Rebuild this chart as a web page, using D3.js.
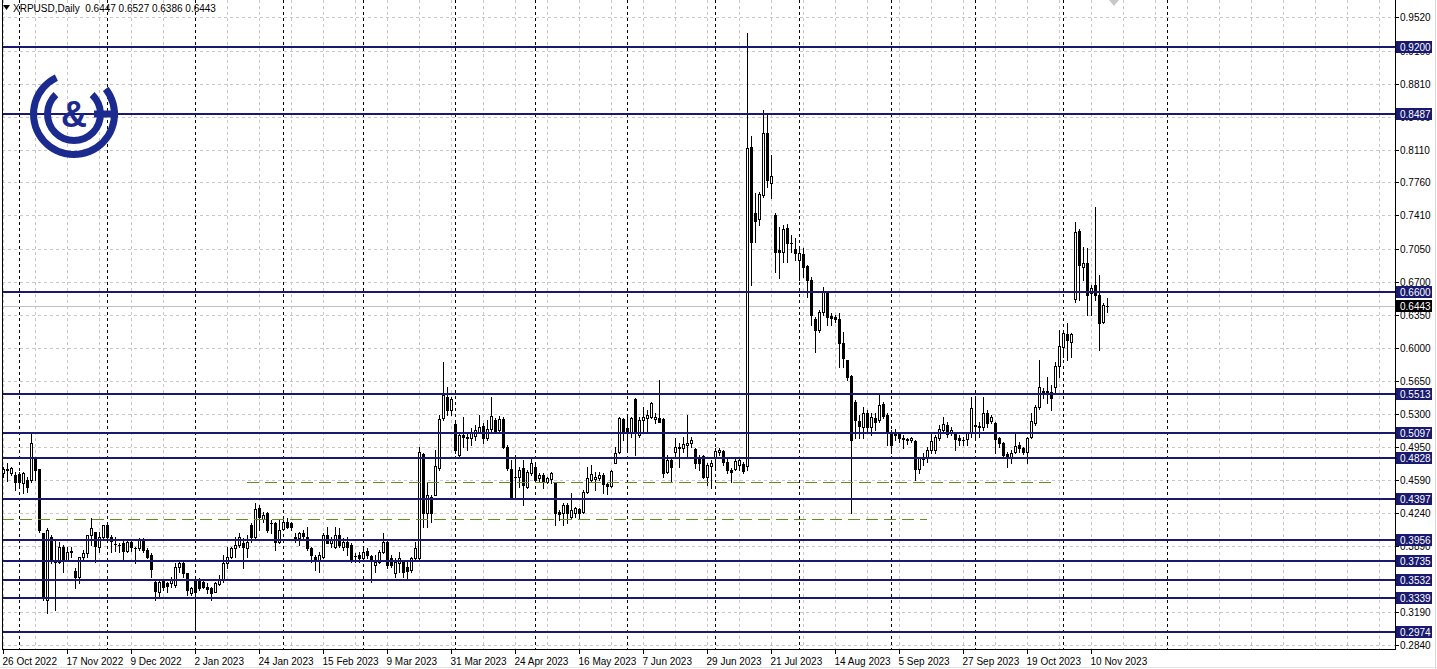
<!DOCTYPE html>
<html><head><meta charset="utf-8">
<script src="https://cdn.jsdelivr.net/npm/d3@7"></script>
<style>html,body{margin:0;padding:0;background:#fff;overflow:hidden}svg{display:block}</style>
</head><body>
<svg id="chart" width="1437" height="669"></svg>
<script>
// ---------------- data ----------------
const symbolTitle = "XRPUSD,Daily";
const headerOHLC = ["0.6447", "0.6527", "0.6386", "0.6443"];
const dateLabels = ["26 Oct 2022","17 Nov 2022","9 Dec 2022","2 Jan 2023","24 Jan 2023","15 Feb 2023","9 Mar 2023","31 Mar 2023","24 Apr 2023","16 May 2023","7 Jun 2023","29 Jun 2023","21 Jul 2023","14 Aug 2023","5 Sep 2023","27 Sep 2023","19 Oct 2023","10 Nov 2023"];
const dateLabelStep = 16;
const priceTicks = [0.9520,0.9160,0.8810,0.8460,0.8110,0.7760,0.7410,0.7050,0.6700,0.6350,0.6000,0.5650,0.5300,0.4950,0.4590,0.4240,0.3890,0.3540,0.3190,0.2840];
const levels = [0.9200,0.8487,0.6600,0.5513,0.5097,0.4828,0.4397,0.3956,0.3735,0.3532,0.3339,0.2974];
const greenLevels = [0.4573, 0.4180];
const greenFrom = [61, -1];
const greenTo = [263, 231];
// month-start bar slots (the last one is in the projected future area)
const monthStartBars = [4,26,48,70,90,113,133,156,178,199,222,243,265,291];
const lastPrice = 0.6443;
// [open, high, low, close]
const ohlc = [
[0.4666,0.4737,0.4630,0.4708],[0.4708,0.4772,0.4588,0.4701],[0.4666,0.4737,0.4648,0.4719],[0.4648,0.4683,0.4488,0.4577],
[0.4659,0.4683,0.4524,0.4577],[0.4559,0.4683,0.4453,0.4666],[0.4595,0.4630,0.4471,0.4524],[0.4595,0.5091,0.4577,0.4985],
[0.4836,0.4843,0.4595,0.4701],[0.4712,0.4712,0.4045,0.4063],[0.4027,0.4027,0.3318,0.3336],[0.3318,0.4080,0.3176,0.4063],
[0.3992,0.4010,0.3708,0.3744],[0.3744,0.3956,0.3212,0.3726],[0.3726,0.3939,0.3708,0.3886],[0.3879,0.3903,0.3620,0.3744],
[0.3744,0.3886,0.3744,0.3832],[0.3832,0.3886,0.3779,0.3836],[0.3630,0.3655,0.3442,0.3559],[0.3566,0.3779,0.3495,0.3779],
[0.3772,0.3850,0.3751,0.3822],[0.3815,0.4010,0.3779,0.4010],[0.4010,0.4187,0.3903,0.4080],[0.4045,0.4045,0.3726,0.3893],
[0.3886,0.4045,0.3832,0.3992],[0.3992,0.4116,0.3956,0.4116],[0.4116,0.4116,0.3949,0.3985],[0.3992,0.4010,0.3832,0.3949],
[0.3914,0.3992,0.3843,0.3914],[0.3906,0.3921,0.3832,0.3900],[0.3928,0.3956,0.3744,0.3843],[0.3843,0.3956,0.3832,0.3939],
[0.3939,0.3956,0.3843,0.3878],[0.3868,0.3886,0.3715,0.3868],[0.3868,0.3974,0.3850,0.3964],[0.3967,0.3974,0.3832,0.3850],
[0.3850,0.3868,0.3761,0.3779],[0.3797,0.3815,0.3566,0.3644],[0.3506,0.3531,0.3318,0.3417],[0.3407,0.3531,0.3354,0.3513],
[0.3524,0.3531,0.3425,0.3460],[0.3503,0.3513,0.3407,0.3467],[0.3495,0.3566,0.3460,0.3538],[0.3478,0.3708,0.3460,0.3673],
[0.3673,0.3726,0.3620,0.3708],[0.3708,0.3726,0.3566,0.3602],[0.3602,0.3602,0.3371,0.3424],[0.3389,0.3460,0.3371,0.3449],
[0.3538,0.3545,0.2974,0.3400],[0.3538,0.3549,0.3424,0.3442],[0.3513,0.3531,0.3442,0.3460],[0.3460,0.3495,0.3389,0.3432],
[0.3442,0.3460,0.3318,0.3389],[0.3407,0.3513,0.3407,0.3495],[0.3488,0.3584,0.3478,0.3531],[0.3531,0.3797,0.3513,0.3708],
[0.3708,0.3886,0.3655,0.3779],[0.3779,0.3886,0.3761,0.3868],[0.3868,0.3992,0.3779,0.3903],[0.3903,0.4027,0.3886,0.3992],
[0.3921,0.3974,0.3655,0.3885],[0.3868,0.4009,0.3779,0.3938],[0.4116,0.4133,0.3938,0.3992],[0.3992,0.4346,0.3974,0.4282],
[0.4293,0.4328,0.4063,0.4204],[0.4176,0.4257,0.4151,0.4222],[0.4240,0.4257,0.4045,0.4063],[0.4137,0.4169,0.4027,0.4133],
[0.4133,0.4151,0.3850,0.3938],[0.3938,0.4169,0.3921,0.4063],[0.4070,0.4187,0.4063,0.4151],[0.4151,0.4187,0.4080,0.4098],
[0.4133,0.4151,0.4063,0.4098],[0.3992,0.4027,0.3938,0.3974],[0.3974,0.4045,0.3903,0.4027],[0.4034,0.4063,0.3956,0.3998],
[0.3992,0.4098,0.3850,0.3868],[0.3868,0.3885,0.3726,0.3797],[0.3779,0.3796,0.3637,0.3736],[0.3743,0.3832,0.3619,0.3796],
[0.3779,0.4027,0.3761,0.4009],[0.4009,0.4098,0.3921,0.3928],[0.3921,0.3992,0.3885,0.3963],[0.3885,0.4098,0.3868,0.4009],
[0.4009,0.4080,0.3885,0.3903],[0.3885,0.3974,0.3850,0.3938],[0.3938,0.3992,0.3796,0.3885],[0.3903,0.3921,0.3726,0.3743],
[0.3789,0.3814,0.3726,0.3785],[0.3796,0.3832,0.3726,0.3761],[0.3761,0.3885,0.3743,0.3832],[0.3843,0.3868,0.3761,0.3796],
[0.3786,0.3796,0.3513,0.3743],[0.3690,0.3796,0.3619,0.3726],[0.3726,0.3850,0.3708,0.3832],[0.3832,0.4027,0.3814,0.3938],
[0.3938,0.3956,0.3655,0.3690],[0.3761,0.3796,0.3672,0.3690],[0.3601,0.3761,0.3566,0.3726],[0.3708,0.3832,0.3619,0.3761],
[0.3726,0.3743,0.3566,0.3619],[0.3672,0.3726,0.3548,0.3630],[0.3637,0.3779,0.3619,0.3761],[0.3761,0.3938,0.3743,0.3868],
[0.3761,0.4950,0.3743,0.4896],[0.4871,0.4878,0.4098,0.4240],[0.4240,0.4577,0.4098,0.4435],[0.4417,0.4435,0.4151,0.4240],
[0.4435,0.4914,0.4435,0.4744],[0.4719,0.5286,0.4701,0.5240],[0.5251,0.5853,0.5233,0.5499],[0.5481,0.5587,0.5286,0.5339],
[0.5339,0.5481,0.5286,0.5453],[0.5190,0.5215,0.4878,0.4914],[0.4860,0.5091,0.4825,0.5073],[0.5073,0.5268,0.4949,0.5048],
[0.5050,0.5109,0.4914,0.5046],[0.5038,0.5144,0.4967,0.5109],[0.5063,0.5180,0.5020,0.5126],[0.5109,0.5286,0.5091,0.5162],
[0.5169,0.5197,0.4984,0.5038],[0.5038,0.5233,0.5020,0.5134],[0.5134,0.5481,0.5109,0.5275],[0.5233,0.5251,0.5091,0.5109],
[0.5126,0.5275,0.5109,0.5240],[0.5240,0.5268,0.4931,0.4949],[0.4949,0.4967,0.4701,0.4719],[0.4708,0.4807,0.4417,0.4417],
[0.4627,0.4860,0.4417,0.4623],[0.4623,0.4736,0.4524,0.4701],[0.4719,0.4807,0.4328,0.4541],[0.4524,0.4701,0.4506,0.4683],
[0.4673,0.4825,0.4648,0.4772],[0.4736,0.4754,0.4577,0.4594],[0.4612,0.4665,0.4577,0.4648],[0.4648,0.4665,0.4506,0.4577],
[0.4577,0.4630,0.4559,0.4612],[0.4602,0.4683,0.4559,0.4665],[0.4577,0.4577,0.4116,0.4240],[0.4258,0.4275,0.4169,0.4233],
[0.4247,0.4346,0.4116,0.4328],[0.4328,0.4346,0.4133,0.4240],[0.4205,0.4453,0.4187,0.4275],[0.4240,0.4311,0.4205,0.4293],
[0.4282,0.4293,0.4187,0.4247],[0.4258,0.4488,0.4240,0.4470],[0.4470,0.4736,0.4453,0.4612],[0.4594,0.4754,0.4577,0.4658],
[0.4602,0.4683,0.4488,0.4630],[0.4612,0.4683,0.4594,0.4648],[0.4648,0.4673,0.4453,0.4552],[0.4552,0.4577,0.4446,0.4531],
[0.4531,0.4701,0.4524,0.4694],[0.4779,0.4949,0.4772,0.4886],[0.4896,0.5268,0.4878,0.5251],[0.5240,0.5251,0.5020,0.5091],
[0.5144,0.5286,0.4914,0.5091],[0.5091,0.5268,0.5056,0.5251],[0.5453,0.5463,0.4860,0.5091],[0.5073,0.5268,0.5056,0.5233],
[0.5233,0.5375,0.5109,0.5268],[0.5251,0.5339,0.5091,0.5286],[0.5268,0.5428,0.5251,0.5410],[0.5240,0.5304,0.5197,0.5268],
[0.5251,0.5658,0.5215,0.5215],[0.5240,0.5251,0.4630,0.4665],[0.4683,0.4860,0.4665,0.4807],[0.4807,0.4843,0.4577,0.4736],
[0.4896,0.5038,0.4825,0.4942],[0.4932,0.4985,0.4736,0.4949],[0.4932,0.5056,0.4896,0.4978],[0.4967,0.5286,0.4843,0.4992],
[0.4992,0.5056,0.4949,0.5020],[0.4925,0.4932,0.4719,0.4779],[0.4843,0.4860,0.4701,0.4772],[0.4850,0.4860,0.4612,0.4630],
[0.4630,0.4772,0.4541,0.4754],[0.4743,0.4807,0.4506,0.4772],[0.4843,0.4932,0.4701,0.4903],[0.4896,0.4932,0.4860,0.4914],
[0.4903,0.4914,0.4754,0.4790],[0.4790,0.4825,0.4665,0.4701],[0.4701,0.4719,0.4577,0.4683],[0.4708,0.4815,0.4701,0.4800],
[0.4754,0.4825,0.4701,0.4807],[0.4765,0.4790,0.4665,0.4694],[0.4744,0.9346,0.4701,0.8123],[0.8141,0.8254,0.6669,0.7130],
[0.7439,0.7644,0.7130,0.7350],[0.7368,0.7662,0.7307,0.7637],[0.7627,0.8530,0.7609,0.8283],[0.8283,0.8477,0.7715,0.7786],
[0.7758,0.8052,0.7591,0.7829],[0.7414,0.7439,0.6811,0.7024],[0.7042,0.7290,0.6740,0.7024],[0.7024,0.7307,0.6917,0.7261],
[0.7272,0.7318,0.6917,0.7119],[0.7119,0.7201,0.7024,0.7119],[0.7049,0.7165,0.6935,0.7006],[0.6935,0.7077,0.6722,0.7006],
[0.6999,0.7059,0.6758,0.6864],[0.6871,0.6882,0.6545,0.6722],[0.6722,0.6758,0.6243,0.6350],[0.6304,0.6332,0.5960,0.6190],
[0.6190,0.6403,0.6172,0.6385],[0.6385,0.6651,0.6350,0.6598],[0.6580,0.6587,0.6243,0.6332],[0.6339,0.6367,0.6243,0.6314],
[0.6332,0.6350,0.6279,0.6304],[0.6304,0.6367,0.5800,0.6048],[0.6055,0.6172,0.5800,0.5889],[0.5871,0.5871,0.5658,0.5694],
[0.5701,0.5712,0.4240,0.5020],[0.5428,0.5446,0.5038,0.5233],[0.5226,0.5286,0.5038,0.5169],[0.5162,0.5375,0.5038,0.5304],
[0.5311,0.5339,0.5091,0.5162],[0.5155,0.5304,0.5073,0.5268],[0.5251,0.5304,0.5126,0.5215],[0.5233,0.5499,0.5215,0.5392],
[0.5403,0.5428,0.5251,0.5275],[0.5286,0.5304,0.4967,0.5091],[0.5098,0.5126,0.4878,0.4967],[0.5109,0.5134,0.5020,0.5073],
[0.5091,0.5109,0.5002,0.5038],[0.5045,0.5073,0.4931,0.5034],[0.5027,0.5038,0.4978,0.5016],[0.5020,0.5056,0.5002,0.5045],
[0.5013,0.5020,0.4595,0.4708],[0.4708,0.4843,0.4665,0.4825],[0.4814,0.4878,0.4754,0.4843],[0.4843,0.4949,0.4790,0.4914],
[0.4914,0.5109,0.4878,0.5013],[0.4914,0.5073,0.4878,0.5056],[0.5038,0.5180,0.5020,0.5134],[0.5126,0.5261,0.5109,0.5190],
[0.5180,0.5215,0.5056,0.5084],[0.5091,0.5162,0.5073,0.5126],[0.5084,0.5091,0.4914,0.5027],[0.5038,0.5073,0.4967,0.5020],
[0.5024,0.5056,0.4967,0.5016],[0.5027,0.5109,0.4967,0.5091],[0.5091,0.5481,0.5056,0.5357],[0.5183,0.5481,0.5056,0.5173],
[0.5166,0.5215,0.5056,0.5158],[0.5162,0.5481,0.5126,0.5311],[0.5311,0.5339,0.5162,0.5197],[0.5226,0.5286,0.5197,0.5268],
[0.5204,0.5215,0.4878,0.5027],[0.5038,0.5056,0.4949,0.4985],[0.4992,0.5002,0.4825,0.4860],[0.4871,0.4896,0.4736,0.4825],
[0.4825,0.4914,0.4772,0.4885],[0.4896,0.5109,0.4878,0.4956],[0.4967,0.5002,0.4896,0.4931],[0.4931,0.4949,0.4871,0.4896],
[0.4896,0.5056,0.4772,0.5038],[0.5056,0.5311,0.5038,0.5226],[0.5197,0.5392,0.5180,0.5368],[0.5375,0.5871,0.5346,0.5580],
[0.5538,0.5570,0.5463,0.5531],[0.5538,0.5694,0.5410,0.5531],[0.5534,0.5605,0.5339,0.5463],[0.5587,0.5853,0.5517,0.5807],
[0.5807,0.6190,0.5694,0.6020],[0.6013,0.6190,0.5907,0.6155],[0.6148,0.6261,0.5871,0.6084],[0.6066,0.6155,0.5907,0.6148],
[0.6516,0.7343,0.6492,0.7236],[0.7247,0.7261,0.6509,0.6882],[0.6864,0.7077,0.6722,0.6907],[0.6907,0.7059,0.6350,0.6563],
[0.6580,0.6669,0.6350,0.6634],[0.6669,0.7502,0.6509,0.6563],[0.6563,0.6775,0.5978,0.6268],[0.6279,0.6474,0.6261,0.6456],
[0.6447,0.6527,0.6386,0.6443]
];

// ---------------- layout ----------------
const W = 1437, H = 669;
const plotL = 2, plotR = 1395, plotT = 0, plotB = 649;
const navy = "#191970";
const FONT = "'Liberation Sans', Arial, sans-serif";

const x = d3.scaleLinear().domain([0, 1]).range([3, 7]);          // 4 px per bar
const y = d3.scaleLinear().domain([0.2840, 0.9520]).range([645, 17]);

const svg = d3.select("#chart");
svg.append("rect").attr("width", W).attr("height", H).attr("fill", "#fff");

svg.append("clipPath").attr("id", "plotclip").append("rect")
  .attr("x", plotL).attr("y", plotT).attr("width", plotR - plotL).attr("height", plotB - plotT);
const plot = svg.append("g").attr("clip-path", "url(#plotclip)");

// vertical grid every 8 bars
const nSlots = Math.ceil((plotR - 3) / 4);
const vGrid = d3.range(0, nSlots, 8);
plot.append("g").selectAll("line").data(vGrid).join("line")
  .attr("x1", d => Math.round(x(d)) + 0.5).attr("x2", d => Math.round(x(d)) + 0.5)
  .attr("y1", plotT).attr("y2", plotB)
  .attr("stroke", "#c8c8c8").attr("stroke-width", 1).attr("stroke-dasharray", "3,3");

// horizontal grid at price ticks
plot.append("g").selectAll("line").data(priceTicks).join("line")
  .attr("x1", plotL).attr("x2", plotR)
  .attr("y1", d => Math.round(y(d)) + 0.5).attr("y2", d => Math.round(y(d)) + 0.5)
  .attr("stroke", "#c8c8c8").attr("stroke-width", 1).attr("stroke-dasharray", "3,3");

// period separators (month starts)
plot.append("g").selectAll("line").data(monthStartBars).join("line")
  .attr("x1", d => Math.round(x(d)) + 0.5).attr("x2", d => Math.round(x(d)) + 0.5)
  .attr("y1", plotT).attr("y2", plotB)
  .attr("stroke", "#000").attr("stroke-width", 1).attr("stroke-dasharray", "3,3");

// current price line
plot.append("line").attr("x1", plotL).attr("x2", plotR)
  .attr("y1", Math.round(y(lastPrice)) + 0.5).attr("y2", Math.round(y(lastPrice)) + 0.5)
  .attr("stroke", "#c0c0c0").attr("stroke-width", 1);

// candles
const cg = plot.append("g");
ohlc.forEach((d, i) => {
  const [o, h, l, c] = d;
  const cx = Math.round(x(i)) + 0.5;
  cg.append("line").attr("x1", cx).attr("x2", cx)
    .attr("y1", Math.round(y(h))).attr("y2", Math.round(y(l)) + 1)
    .attr("stroke", "#000").attr("stroke-width", 1);
  const yt = Math.round(y(Math.max(o, c))), yb = Math.round(y(Math.min(o, c)));
  if (yb - yt < 1) {
    cg.append("line").attr("x1", cx - 1.5).attr("x2", cx + 1.5)
      .attr("y1", yt + 0.5).attr("y2", yt + 0.5).attr("stroke", "#000");
  } else {
    cg.append("rect").attr("x", cx - 1).attr("y", yt + 0.5)
      .attr("width", 2).attr("height", yb - yt)
      .attr("fill", c >= o ? "#fff" : "#000").attr("stroke", "#000").attr("stroke-width", 1);
  }
});

// green dashed trend levels
plot.append("g").selectAll("line").data(greenLevels).join("line")
  .attr("x1", (d, i) => greenFrom[i] < 0 ? plotL : x(greenFrom[i]))
  .attr("x2", (d, i) => x(greenTo[i]))
  .attr("y1", d => Math.round(y(d)) + 0.5).attr("y2", d => Math.round(y(d)) + 0.5)
  .attr("stroke", "#5f8f1f").attr("stroke-width", 1).attr("stroke-dasharray", "12,6");

// navy horizontal levels
plot.append("g").selectAll("line").data(levels).join("line")
  .attr("x1", plotL).attr("x2", plotR)
  .attr("y1", d => Math.round(y(d))).attr("y2", d => Math.round(y(d)))
  .attr("stroke", navy).attr("stroke-width", 2);

// logo
const logoBlue = "#1b2a8f";
const logo = svg.append("g").attr("transform", "translate(74,114)");
logo.append("path")
  .attr("d", d3.arc().innerRadius(37).outerRadius(44).startAngle(0.9).endAngle(2 * Math.PI - 0.45)())
  .attr("fill", logoBlue);
logo.append("path")
  .attr("d", d3.arc().innerRadius(23).outerRadius(30).startAngle(0.75).endAngle(2 * Math.PI - 0.75)())
  .attr("fill", logoBlue);
logo.append("rect").attr("x", 20).attr("y", -3.5).attr("width", 24).attr("height", 7).attr("fill", logoBlue);
logo.append("text").attr("x", 0).attr("y", 13).attr("text-anchor", "middle")
  .attr("font-family", FONT).attr("font-size", 36).attr("font-weight", "bold").attr("fill", logoBlue).text("&");

// frame / axes
svg.append("line").attr("x1", plotL + 0.5).attr("x2", plotL + 0.5).attr("y1", 0).attr("y2", plotB + 1).attr("stroke", "#000");
svg.append("line").attr("x1", plotR + 0.5).attr("x2", plotR + 0.5).attr("y1", 0).attr("y2", plotB + 1).attr("stroke", "#000");
svg.append("line").attr("x1", plotL).attr("x2", plotR + 1).attr("y1", plotB + 0.5).attr("y2", plotB + 0.5).attr("stroke", "#000");

// price axis ticks & labels
const pa = svg.append("g");
priceTicks.forEach(p => {
  const yy = Math.round(y(p)) + 0.5;
  pa.append("line").attr("x1", plotR + 1).attr("x2", plotR + 4).attr("y1", yy).attr("y2", yy).attr("stroke", "#000");
  pa.append("text").attr("x", 1400).attr("y", yy + 3.5)
    .attr("font-family", FONT).attr("font-size", 10).attr("fill", "#000").text(p.toFixed(4));
});
levels.forEach(p => {
  const yy = Math.round(y(p));
  pa.append("rect").attr("x", plotR + 1).attr("y", yy - 6).attr("width", 36).attr("height", 12).attr("fill", navy);
  pa.append("text").attr("x", 1400).attr("y", yy + 3.5)
    .attr("font-family", FONT).attr("font-size", 10).attr("fill", "#fff").text(p.toFixed(4));
});
{
  const yy = Math.round(y(lastPrice));
  pa.append("rect").attr("x", plotR + 1).attr("y", yy - 6).attr("width", 36).attr("height", 12).attr("fill", "#000");
  pa.append("text").attr("x", 1400).attr("y", yy + 3.5)
    .attr("font-family", FONT).attr("font-size", 10).attr("fill", "#fff").text(lastPrice.toFixed(4));
}

// date axis
const da = svg.append("g");
dateLabels.forEach((t, k) => {
  const xx = Math.round(x(k * dateLabelStep)) + 0.5;
  da.append("line").attr("x1", xx).attr("x2", xx).attr("y1", plotB).attr("y2", plotB + 5).attr("stroke", "#000");
  da.append("text").attr("x", xx - 1).attr("y", 665)
    .attr("font-family", FONT).attr("font-size", 10).attr("fill", "#000").text(t);
});

// header
svg.append("path").attr("d", "M3,5 L10,5 L6.5,10 Z").attr("fill", "#000");
svg.append("text").attr("x", 13).attr("y", 12)
  .attr("font-family", FONT).attr("font-size", 10).attr("fill", "#000")
  .attr("xml:space", "preserve").style("white-space", "pre")
  .text(symbolTitle + "  " + headerOHLC.join(" "));

// chart-shift marker
svg.append("path").attr("d", "M1109,0 L1119,0 L1114,6 Z").attr("fill", "#c8c8c8");

// window edges
svg.append("line").attr("x1", 1435.5).attr("x2", 1435.5).attr("y1", 0).attr("y2", H).attr("stroke", "#d8d8d8");
svg.append("line").attr("x1", 0).attr("x2", W).attr("y1", 667.5).attr("y2", 667.5).attr("stroke", "#e4e4e4");
</script>
</body></html>
